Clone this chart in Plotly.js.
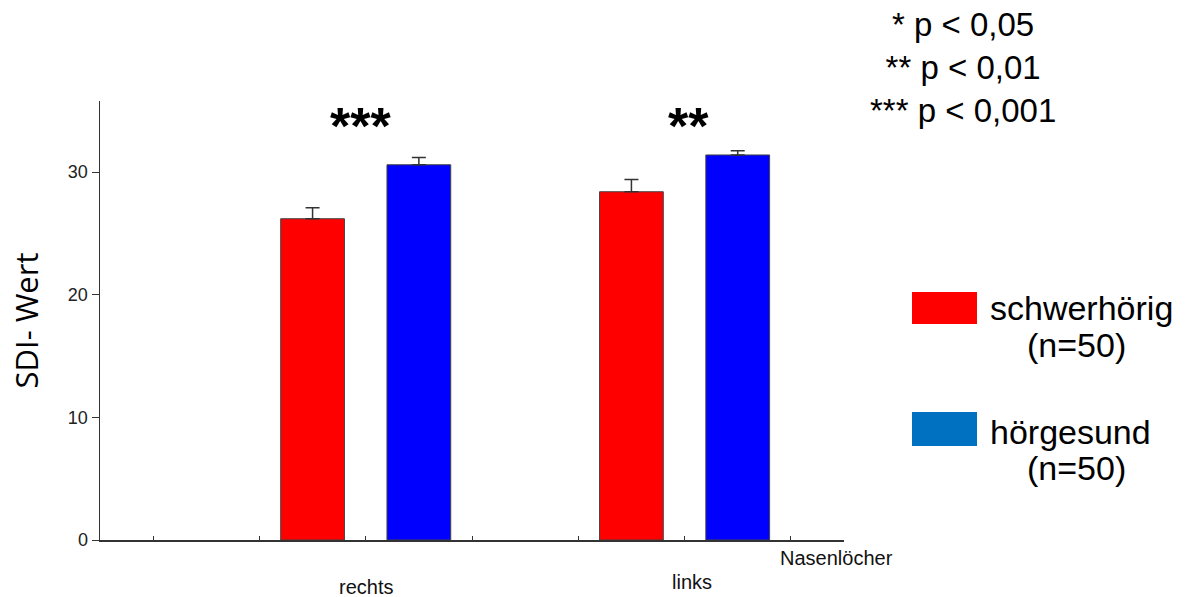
<!DOCTYPE html>
<html>
<head>
<meta charset="utf-8">
<script src="https://cdn.plot.ly/plotly-3.0.1.min.js"></script>
<style>html,body{margin:0;padding:0;background:#fff;}#chart{width:1186px;height:597px;}</style>
</head>
<body>
<div id="chart"></div>
<script>
// ---- data ----
const categories = ["rechts", "links"];
const groupNames = ["schwerhörig", "hörgesund"];
const groupN = ["(n=50)", "(n=50)"];
const schwerhoerigMean = [26.2, 28.4];
const schwerhoerigErr = [0.9, 1.0];
const hoergesundMean = [30.6, 31.4];
const hoergesundErr = [0.6, 0.35];
const significance = ["***", "**"];
const pLegend = ["* p < 0,05", "** p < 0,01", "*** p < 0,001"];
const yTicks = [0, 10, 20, 30];
const xAxisName = "Nasenlöcher";
const yAxisName = "SDI- Wert";

// ---- layout helpers ----
const W = 1186, H = 597;
const M = {l: 100, r: 342, t: 101, b: 57};
const pw = W - M.l - M.r, ph = H - M.t - M.b;
const px = x => (x - M.l) / pw;
const py = y => (H - M.b - y) / ph;

// group positions on a linear axis (slot units)
const redPos = [2, 5];
const bluePos = [3, 6];

const font = "Liberation Sans, Arial, Helvetica, sans-serif";
const errStyle = {type: 'data', symmetric: false, color: '#333', thickness: 1.5, width: 7};

const traces = [
  {
    type: 'bar', x: redPos, y: schwerhoerigMean, width: 0.6, name: groupNames[0],
    marker: {color: '#ff0000', line: {color: '#444', width: 1}},
    error_y: Object.assign({array: schwerhoerigErr, arrayminus: schwerhoerigErr.map(() => 0)}, errStyle),
    hoverinfo: 'skip'
  },
  {
    type: 'bar', x: bluePos, y: hoergesundMean, width: 0.6, name: groupNames[1],
    marker: {color: '#0000ff', line: {color: '#444', width: 1}},
    error_y: Object.assign({array: hoergesundErr, arrayminus: hoergesundErr.map(() => 0)}, errStyle),
    hoverinfo: 'skip'
  }
];

const annotations = [];
// category labels
const catX = [2.5, 5.57];
const catY = [587, 582];
categories.forEach((c, i) => {
  annotations.push({xref: 'x', yref: 'paper', x: catX[i], y: py(catY[i]), text: c, showarrow: false,
    xanchor: 'center', yanchor: 'middle', font: {family: font, size: 20, color: '#111'}});
});
// axis name
annotations.push({xref: 'paper', yref: 'paper', x: px(836), y: py(558), text: xAxisName, showarrow: false,
  xanchor: 'center', yanchor: 'middle', font: {family: font, size: 20, color: '#111'}});
// significance stars
const starX = [2.45, 5.54];
significance.forEach((s, i) => {
  annotations.push({xref: 'x', yref: 'paper', x: starX[i], y: py(126), text: '<b>' + s + '</b>', showarrow: false,
    xanchor: 'center', yanchor: 'middle', font: {family: font, size: 52, color: '#000'}});
});
// p-value legend
annotations.push({xref: 'paper', yref: 'paper', x: px(963), y: py(68), text: pLegend.join('<br>'), showarrow: false,
  xanchor: 'center', yanchor: 'middle', align: 'center', font: {family: font, size: 33, color: '#000'}});
// group legend
const legY = [[308, 345], [432, 468]];
groupNames.forEach((g, i) => {
  annotations.push({xref: 'paper', yref: 'paper', x: px(988), y: py(legY[i][0]), text: g, showarrow: false,
    xanchor: 'left', yanchor: 'middle', font: {family: font, size: 34, color: '#000'}});
  annotations.push({xref: 'paper', yref: 'paper', x: px(1076), y: py(legY[i][1]), text: groupN[i], showarrow: false,
    xanchor: 'center', yanchor: 'middle', font: {family: font, size: 34, color: '#000'}});
});

const legendColors = ['#ff0000', '#0070c0'];
const legRects = [[292, 324], [412, 446]];
const shapes = legendColors.map((c, i) => ({
  type: 'rect', xref: 'paper', yref: 'paper', x0: px(912), x1: px(977), y0: py(legRects[i][1]), y1: py(legRects[i][0]),
  fillcolor: c, line: {width: 0}
}));

const layout = {
  width: W, height: H,
  margin: M,
  paper_bgcolor: '#fff', plot_bgcolor: '#fff',
  showlegend: false,
  barmode: 'overlay',
  font: {family: font, color: '#222'},
  xaxis: {
    range: [0, 7], showgrid: false, zeroline: false, showline: true, linecolor: '#333', linewidth: 1.5,
    tickmode: 'array', tickvals: [0.5, 1.5, 2.5, 3.5, 4.5, 5.5, 6.5], ticktext: ['', '', '', '', '', '', ''],
    ticks: 'inside', ticklen: 4, tickwidth: 1, tickcolor: '#333', fixedrange: true
  },
  yaxis: {
    range: [0, 35.8], showgrid: false, zeroline: false, showline: true, linecolor: '#333', linewidth: 1.5,
    tickmode: 'array', tickvals: yTicks, ticktext: yTicks.map(String),
    ticks: 'outside', ticklen: 7, tickwidth: 1, tickcolor: '#333',
    tickfont: {family: font, size: 18, color: '#222'},
    title: {text: yAxisName, font: {family: 'Open Sans, sans-serif', size: 31, color: '#000'}, standoff: 20},
    fixedrange: true
  },
  annotations: annotations,
  shapes: shapes
};

Plotly.newPlot('chart', traces, layout, {displayModeBar: false, staticPlot: true});
</script>
</body>
</html>
